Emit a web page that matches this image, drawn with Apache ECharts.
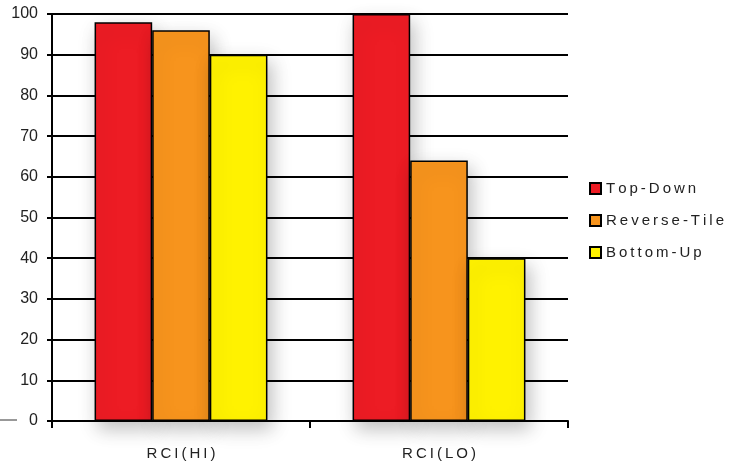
<!DOCTYPE html>
<html><head><meta charset="utf-8">
<script src="https://cdn.jsdelivr.net/npm/echarts@6/dist/echarts.min.js"></script>
<style>html,body{margin:0;padding:0;background:#fff}#c{width:745px;height:469px}</style>
</head><body><div id="c"></div>
<script>
const categories = ['RCI(HI)', 'RCI(LO)'];
const seriesNames = ['Top-Down', 'Reverse-Tile', 'Bottom-Up'];
const topDown = [98, 100];
const reverseTile = [96, 64];
const bottomUp = [90, 40];
const yTicks = [0, 10, 20, 30, 40, 50, 60, 70, 80, 90, 100];
const colors = ['#ED1C24', '#F7941D', '#FFF200'];
const values = [topDown, reverseTile, bottomUp];

const chart = echarts.init(document.getElementById('c'));
const font = 'Liberation Sans, Arial, sans-serif';
const spaced = s => s.split('').join('\u2009');
chart.setOption({
  animation: false,
  backgroundColor: '#fff',
  grid: { left: 52, right: 177, top: 14, bottom: 48, containLabel: false },
  legend: {
    orient: 'vertical', left: 584, top: 176, itemWidth: 11, itemHeight: 11, itemGap: 17,
    icon: 'rect',
    textStyle: { fontFamily: font, fontSize: 15, color: '#222' },
    formatter: n => spaced(n),
    data: seriesNames
  },
  xAxis: {
    type: 'category', data: categories,
    axisLine: { lineStyle: { color: '#000', width: 2 } },
    axisTick: { show: true, length: 7, lineStyle: { color: '#000', width: 2 } },
    axisLabel: { fontFamily: font, fontSize: 15, color: '#222', margin: 25,
      formatter: v => spaced(v) }
  },
  yAxis: {
    type: 'value', min: yTicks[0], max: yTicks[yTicks.length - 1], interval: 10,
    axisLine: { show: true, lineStyle: { color: '#000', width: 2 } },
    axisTick: { show: true, length: 5, lineStyle: { color: '#000', width: 2 } },
    axisLabel: { fontFamily: font, fontSize: 16, color: '#222', margin: 14 },
    splitLine: { lineStyle: { color: '#000', width: 2 } }
  },
  series: seriesNames.map((name, i) => ({
    name, type: 'bar', data: values[i],
    barGap: '0%', barCategoryGap: '33%',
    itemStyle: { color: colors[i], borderColor: '#000', borderWidth: 1.5,
      shadowColor: 'rgba(0,0,0,0.25)', shadowBlur: 18, shadowOffsetX: 4, shadowOffsetY: 8 }
  })),
  graphic: [{ type: 'line', shape: { x1: 0, y1: 420, x2: 17, y2: 420 }, style: { stroke: '#333', lineWidth: 1 } }]
});
</script></body></html>
